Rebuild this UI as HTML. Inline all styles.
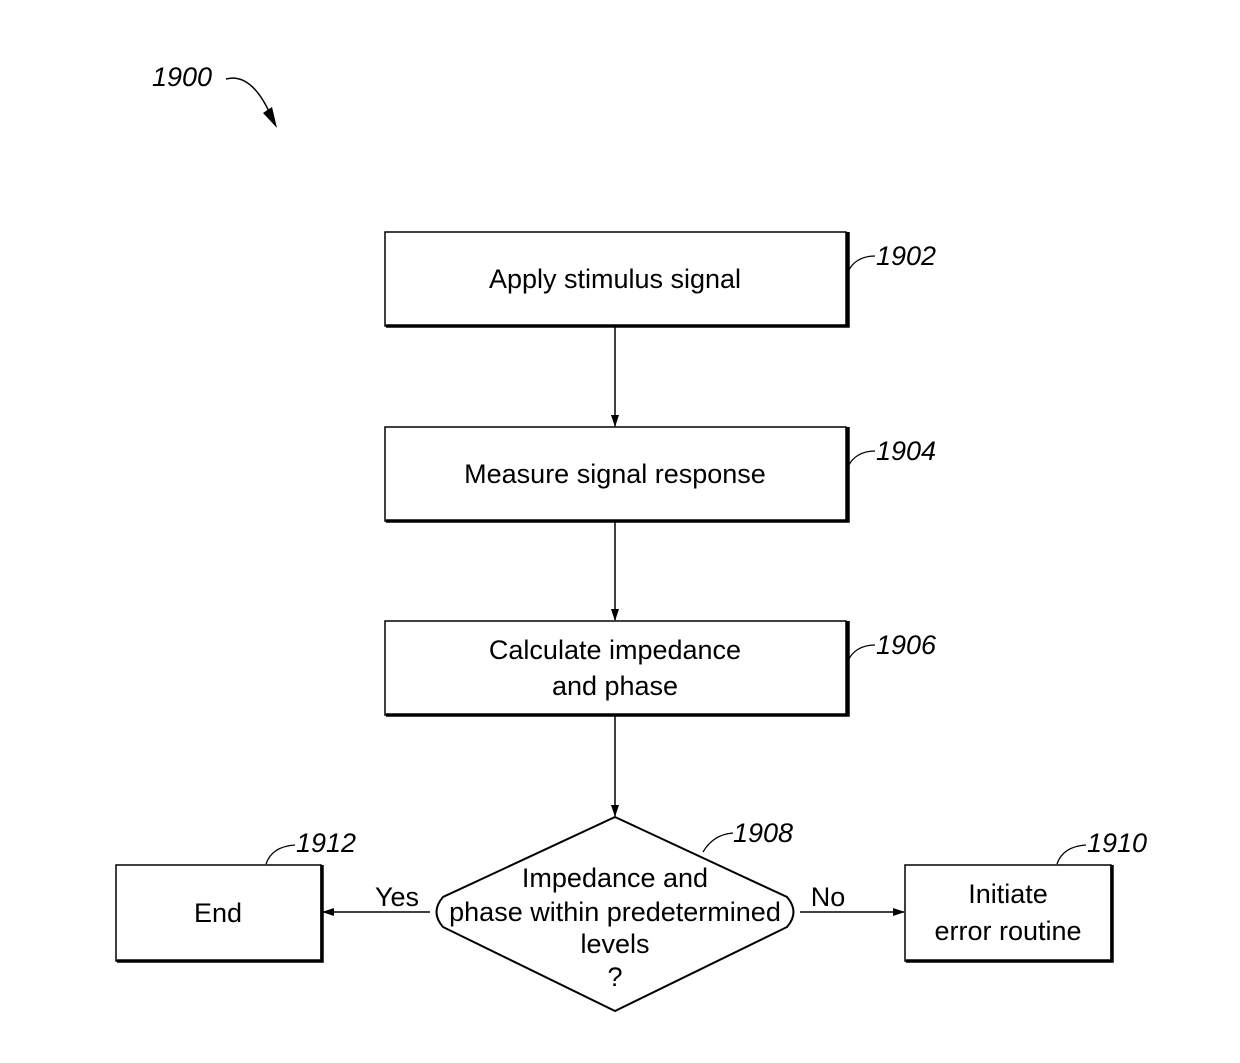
<!DOCTYPE html>
<html><head><meta charset="utf-8"><style>
html,body{margin:0;padding:0;background:#fff;}
svg{display:block;}
text{font-family:"Liberation Sans",sans-serif;fill:#000;}
.t{font-size:27px;text-anchor:middle;}
.r{font-size:27px;font-style:italic;}
</style></head><body>
<svg width="1240" height="1063" viewBox="0 0 1240 1063" xmlns="http://www.w3.org/2000/svg">
<defs>
<marker id="a" markerWidth="12" markerHeight="10" refX="11" refY="5" orient="auto" markerUnits="userSpaceOnUse">
<path d="M0,1 L12,5 L0,9 Z" fill="#000"/></marker>
</defs>
<g fill="none" stroke="#000">
<!-- boxes -->
<rect x="385" y="232" width="461" height="94" stroke-width="1.5"/>
<path d="M386,326 H848 V232" stroke-width="3.5"/>
<rect x="385" y="427" width="461" height="94" stroke-width="1.5"/>
<path d="M386,521 H848 V427" stroke-width="3.5"/>
<rect x="385" y="621" width="461" height="94" stroke-width="1.5"/>
<path d="M386,715 H848 V621" stroke-width="3.5"/>
<rect x="116" y="865" width="205" height="96" stroke-width="1.5"/>
<path d="M117,961 H322 V865" stroke-width="3.5"/>
<rect x="905" y="865" width="206" height="96" stroke-width="1.5"/>
<path d="M906,961 H1112 V865" stroke-width="3.5"/>
<!-- diamond -->
<path d="M615,817 L787,897 Q800,912 787,927 L615,1011 L443,927 Q430,912 443,897 Z" stroke-width="2"/>
<!-- connectors -->
<line x1="615" y1="327" x2="615" y2="426" stroke-width="1.5" marker-end="url(#a)"/>
<line x1="615" y1="522" x2="615" y2="620" stroke-width="1.5" marker-end="url(#a)"/>
<line x1="615" y1="716" x2="615" y2="816" stroke-width="1.5" marker-end="url(#a)"/>
<line x1="430" y1="912" x2="323" y2="912" stroke-width="1.5" marker-end="url(#a)"/>
<line x1="800" y1="912" x2="904" y2="912" stroke-width="1.5" marker-end="url(#a)"/>
<!-- leaders -->
<path d="M848,272 C852,262 862,256 875,256" stroke-width="1.3"/>
<path d="M848,467 C852,457 862,451 875,451" stroke-width="1.3"/>
<path d="M848,661 C852,651 862,645 875,645" stroke-width="1.3"/>
<path d="M266,864 C270,852 280,846 295,845" stroke-width="1.3"/>
<path d="M703,852 C710,840 720,834 733,833" stroke-width="1.3"/>
<path d="M1057,864 C1061,852 1071,846 1086,845" stroke-width="1.3"/>
<path d="M226,79 C245,74 260,90 272,118" stroke-width="1.5"/>
</g>
<path d="M263,113 L277,128 L272,107 Z" fill="#000"/>
<text class="t" x="615" y="288">Apply stimulus signal</text>
<text class="t" x="615" y="483">Measure signal response</text>
<text class="t" x="615" y="659">Calculate impedance</text>
<text class="t" x="615" y="695">and phase</text>
<text class="t" x="218" y="922">End</text>
<text class="t" x="1008" y="903">Initiate</text>
<text class="t" x="1008" y="940">error routine</text>
<text class="t" x="615" y="887">Impedance and</text>
<text class="t" x="615" y="921">phase within predetermined</text>
<text class="t" x="615" y="953">levels</text>
<text class="t" x="615" y="986">?</text>
<text class="t" x="397" y="906">Yes</text>
<text class="t" x="828" y="906">No</text>
<text class="r" x="876" y="265">1902</text>
<text class="r" x="876" y="460">1904</text>
<text class="r" x="876" y="654">1906</text>
<text class="r" x="296" y="852">1912</text>
<text class="r" x="733" y="842">1908</text>
<text class="r" x="1087" y="852">1910</text>
<text class="r" x="152" y="86">1900</text>
</svg>
</body></html>
